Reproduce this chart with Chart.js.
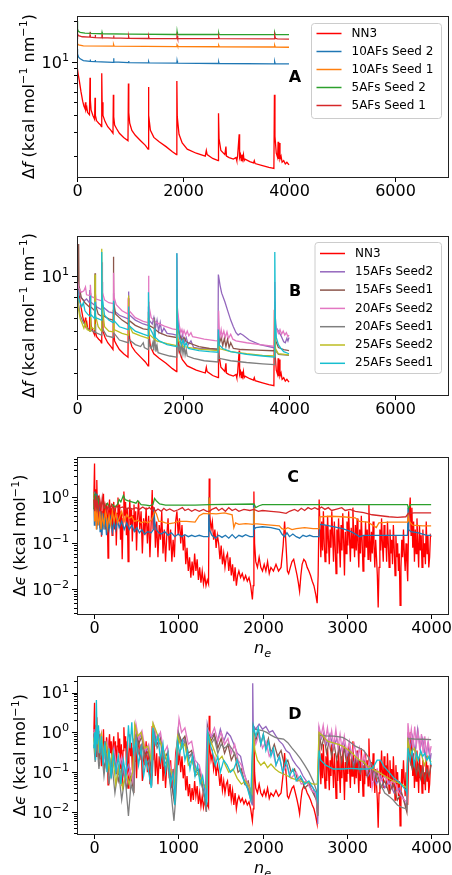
<!DOCTYPE html>
<html>
<head>
<meta charset="utf-8">
<title>Force and energy errors vs n_e</title>
<script src="https://cdn.jsdelivr.net/npm/chart.js@4.4.1/dist/chart.umd.min.js"></script>
<style>
  body { margin: 0; background: #fff; }
  canvas { position: absolute; left: 0; }
</style>
</head>
<body>
<canvas id="panelA" width="452" height="220" style="top:0px"></canvas>
<canvas id="panelB" width="452" height="218" style="top:220px"></canvas>
<canvas id="panelC" width="452" height="222" style="top:438px"></canvas>
<canvas id="panelD" width="452" height="215" style="top:660px"></canvas>
<script>
// ---- data: [epoch, value] ----

// force error, panels A and B
const nn3Df = [[0, 9.3], [20, 8.2], [44, 7.2], [75, 6.0], [107, 5.1], [130, 4.7], [150, 4.5], [160, 5.0], [168, 4.4], [185, 4.6], [200, 4.2], [235, 4.05], [246, 7.6], [252, 5.2], [265, 4.4], [300, 4.0], [332, 3.75], [340, 5.4], [347, 4.0], [370, 3.65], [410, 3.5], [445, 3.4], [460, 3.3], [467, 8.2], [474, 5.0], [490, 4.0], [530, 3.6], [580, 3.3], [640, 3.1], [679, 2.95], [686, 5.7], [693, 3.9], [710, 3.4], [745, 3.2], [800, 2.95], [880, 2.75], [962, 2.6], [970, 6.9], [977, 4.2], [995, 3.5], [1035, 3.1], [1100, 2.85], [1200, 2.6], [1290, 2.4], [1341, 2.25], [1348, 6.5], [1356, 4.0], [1385, 3.1], [1450, 2.75], [1550, 2.55], [1680, 2.35], [1800, 2.15], [1877, 2.05], [1884, 7.2], [1892, 3.9], [1925, 2.9], [1985, 2.5], [2080, 2.25], [2250, 2.1], [2420, 2.0], [2440, 2.2], [2455, 2.05], [2560, 1.92], [2663, 1.85], [2670, 4.15], [2680, 2.7], [2715, 2.2], [2790, 2.05], [2810, 2.35], [2820, 2.0], [2870, 1.95], [2950, 1.9], [3000, 1.95], [3015, 1.85], [3030, 2.0], [3060, 2.9], [3068, 1.95], [3085, 2.05], [3100, 1.85], [3112, 2.05], [3125, 1.9], [3140, 2.05], [3152, 1.85], [3170, 1.9], [3260, 1.82], [3330, 1.78], [3345, 1.85], [3360, 1.76], [3500, 1.7], [3620, 1.65], [3715, 1.62], [3725, 5.7], [3735, 2.8], [3760, 2.1], [3785, 1.95], [3795, 2.55], [3805, 1.9], [3820, 2.5], [3830, 1.9], [3850, 2.0], [3870, 1.8], [3900, 1.85], [3930, 1.75], [3960, 1.8], [4000, 1.72]];
const blue10s2Df = [[0, 12.4], [10, 11.4], [30, 10.8], [60, 10.5], [120, 10.2], [246, 10.05], [250, 10.4], [256, 10.05], [340, 10.0], [344, 10.3], [350, 10.0], [686, 9.9], [690, 10.6], [698, 9.95], [970, 9.85], [974, 10.1], [980, 9.85], [1348, 9.8], [1352, 10.0], [1360, 9.8], [1884, 9.75], [1888, 10.15], [1896, 9.75], [2670, 9.7], [2674, 9.9], [2680, 9.7], [3725, 9.65], [3730, 10.0], [3740, 9.65], [4000, 9.62]];
const orange10s1Df = [[0, 14.6], [8, 13.6], [30, 13.3], [120, 13.1], [686, 13.05], [690, 13.4], [700, 13.05], [1884, 12.95], [1888, 13.3], [1900, 12.95], [2670, 12.9], [2674, 13.2], [2685, 12.9], [3725, 12.85], [3730, 13.2], [3740, 12.85], [4000, 12.8]];
const green5s2Df = [[0, 20.0], [10, 17.5], [25, 16.8], [60, 16.5], [150, 16.3], [246, 16.2], [250, 16.6], [256, 16.2], [467, 16.1], [472, 16.5], [478, 16.1], [1000, 16.0], [1884, 15.9], [1888, 16.7], [1895, 15.95], [2670, 15.9], [2675, 16.2], [2680, 15.9], [3725, 15.85], [3730, 16.4], [3740, 15.9], [4000, 15.85]];
const red5s1Df = [[0, 16.6], [10, 16.0], [30, 15.6], [100, 15.3], [240, 15.2], [246, 15.8], [252, 15.2], [340, 15.1], [344, 15.8], [350, 15.1], [467, 15.0], [471, 16.0], [480, 15.1], [686, 14.95], [690, 15.6], [698, 15.0], [970, 14.9], [974, 15.4], [982, 14.9], [1348, 14.85], [1352, 15.3], [1360, 14.85], [1884, 14.8], [1888, 15.5], [1900, 14.85], [2670, 14.8], [2674, 15.3], [2685, 14.8], [3725, 14.75], [3730, 15.7], [3745, 14.9], [3780, 14.75], [4000, 14.7]];

const purple15s2Df = [[0, 8.8], [30, 7.6], [80, 6.9], [140, 6.6], [180, 6.8], [233, 6.4], [240, 7.9], [250, 6.5], [340, 6.1], [346, 7.0], [360, 6.0], [467, 5.7], [472, 9.0], [482, 6.0], [600, 5.5], [686, 5.4], [690, 7.5], [700, 5.6], [800, 5.2], [965, 4.9], [970, 7.7], [980, 5.3], [1100, 4.8], [1250, 4.5], [1340, 4.4], [1348, 6.0], [1360, 4.8], [1420, 4.5], [1450, 5.0], [1480, 4.2], [1510, 4.8], [1540, 4.0], [1570, 4.6], [1600, 3.9], [1640, 4.2], [1700, 3.85], [1800, 3.8], [1878, 3.75], [1884, 14.5], [1892, 5.5], [1930, 3.9], [1960, 3.5], [1990, 3.8], [2020, 3.3], [2060, 3.6], [2100, 3.2], [2150, 3.4], [2200, 3.05], [2300, 3.0], [2500, 2.97], [2660, 2.95], [2667, 10.2], [2700, 8.5], [2730, 7.5], [2790, 6.5], [2850, 5.5], [2900, 4.8], [2950, 4.3], [3000, 3.9], [3040, 3.75], [3080, 3.85], [3130, 3.75], [3250, 3.45], [3450, 3.2], [3700, 3.05], [3725, 3.05], [3732, 6.0], [3750, 4.3], [3800, 4.0], [3850, 3.7], [3900, 3.35], [3930, 3.3], [3960, 3.55], [3980, 3.4], [4000, 3.6]];
const brown15s1Df = [[0, 9.0], [25, 8.0], [31, 16.9], [38, 8.5], [80, 7.0], [150, 6.4], [246, 5.9], [252, 7.5], [262, 6.0], [334, 5.6], [340, 10.4], [348, 6.2], [400, 5.3], [467, 5.1], [472, 6.5], [480, 5.2], [600, 4.9], [680, 4.8], [686, 13.7], [694, 6.5], [730, 5.3], [850, 4.8], [965, 4.5], [970, 5.8], [980, 4.8], [1100, 4.4], [1250, 4.15], [1342, 4.1], [1348, 5.5], [1360, 4.4], [1450, 4.2], [1550, 3.9], [1700, 3.7], [1878, 3.6], [1884, 8.0], [1895, 4.4], [1940, 3.7], [1980, 3.45], [2020, 3.6], [2060, 3.35], [2100, 3.3], [2300, 3.1], [2500, 3.0], [2665, 2.97], [2672, 4.0], [2690, 3.3], [2720, 3.6], [2750, 3.15], [2780, 3.55], [2810, 3.1], [2840, 3.5], [2870, 3.05], [2900, 3.3], [2950, 3.0], [3100, 2.95], [3400, 2.92], [3700, 2.89], [3726, 2.9], [3732, 6.5], [3750, 3.4], [3800, 3.05], [3900, 2.95], [4000, 2.9]];
const pink20s2Df = [[0, 9.6], [30, 8.2], [80, 7.6], [130, 7.8], [160, 8.3], [180, 7.3], [246, 7.2], [252, 8.6], [265, 7.1], [340, 6.9], [346, 7.5], [360, 6.8], [467, 6.6], [472, 12.5], [480, 7.6], [520, 6.7], [600, 6.4], [686, 6.3], [690, 10.5], [700, 7.0], [740, 6.2], [850, 5.6], [965, 5.3], [970, 7.0], [985, 5.6], [1100, 5.0], [1250, 4.7], [1340, 4.6], [1348, 10.0], [1358, 6.2], [1400, 5.0], [1500, 4.6], [1650, 4.35], [1800, 4.15], [1878, 4.1], [1884, 13.5], [1892, 6.0], [1930, 4.4], [1960, 3.9], [1980, 4.1], [2000, 3.8], [2020, 4.05], [2050, 3.75], [2080, 4.0], [2110, 3.7], [2150, 3.9], [2180, 3.65], [2250, 3.6], [2400, 3.5], [2600, 3.42], [2665, 3.4], [2672, 5.6], [2685, 4.0], [2700, 3.7], [2720, 4.1], [2740, 3.65], [2770, 4.0], [2800, 3.6], [2830, 3.95], [2860, 3.55], [2900, 3.8], [2940, 3.5], [3000, 3.4], [3200, 3.3], [3450, 3.2], [3700, 3.12], [3726, 3.15], [3732, 9.0], [3745, 4.5], [3770, 4.1], [3800, 3.85], [3830, 4.1], [3860, 3.8], [3890, 4.0], [3920, 3.75], [3950, 3.9], [3980, 3.65], [4000, 3.75]];
const gray20s1Df = [[0, 8.5], [25, 6.5], [60, 5.2], [120, 4.6], [200, 4.2], [246, 4.0], [252, 5.0], [262, 4.1], [340, 3.9], [346, 4.5], [356, 3.9], [462, 3.75], [467, 6.0], [474, 4.2], [560, 3.7], [680, 3.6], [686, 6.5], [694, 3.9], [800, 3.45], [965, 3.3], [970, 4.5], [980, 3.5], [1100, 3.2], [1200, 3.1], [1250, 3.3], [1270, 3.05], [1342, 2.95], [1348, 4.2], [1360, 3.2], [1400, 3.0], [1430, 3.3], [1450, 2.9], [1462, 5.0], [1475, 3.2], [1490, 2.85], [1510, 3.15], [1530, 2.8], [1600, 2.75], [1750, 2.65], [1878, 2.6], [1884, 5.5], [1892, 3.4], [1920, 2.9], [1940, 3.2], [1960, 2.8], [1980, 3.3], [2000, 2.75], [2020, 3.1], [2040, 2.7], [2060, 2.95], [2080, 2.65], [2200, 2.55], [2400, 2.45], [2660, 2.4], [2667, 3.0], [2680, 2.55], [2900, 2.45], [3200, 2.38], [3500, 2.33], [3726, 2.3], [3732, 4.0], [3745, 2.9], [3800, 2.72], [4000, 2.68]];
const olive25s2Df = [[0, 8.0], [20, 6.0], [60, 4.9], [100, 4.5], [130, 4.2], [160, 4.6], [190, 4.1], [246, 4.0], [252, 5.5], [262, 4.3], [334, 4.1], [340, 10.2], [348, 5.2], [400, 4.3], [462, 4.0], [467, 15.6], [474, 6.0], [520, 4.3], [600, 4.0], [686, 3.95], [690, 5.5], [700, 4.1], [850, 3.85], [965, 3.75], [970, 7.2], [980, 4.5], [1050, 3.9], [1200, 3.7], [1342, 3.55], [1348, 5.0], [1360, 3.8], [1500, 3.4], [1700, 3.25], [1878, 3.15], [1884, 6.0], [1895, 3.5], [2000, 3.1], [2300, 2.97], [2660, 2.9], [2667, 3.5], [2680, 3.0], [2900, 2.85], [3200, 2.75], [3500, 2.68], [3726, 2.65], [3732, 5.0], [3745, 3.0], [3800, 2.75], [4000, 2.7]];
const cyan25s1Df = [[0, 8.8], [20, 7.2], [50, 6.5], [90, 6.0], [120, 6.4], [150, 5.6], [200, 5.3], [246, 5.1], [252, 7.2], [262, 5.3], [334, 4.9], [340, 6.5], [348, 5.0], [462, 4.8], [467, 14.8], [474, 7.0], [520, 5.2], [600, 4.8], [680, 4.6], [686, 6.6], [694, 4.8], [800, 4.3], [965, 4.1], [970, 6.0], [980, 4.4], [1100, 4.0], [1250, 3.8], [1342, 3.7], [1348, 7.6], [1360, 4.3], [1420, 3.9], [1460, 3.6], [1470, 4.2], [1480, 3.6], [1550, 3.4], [1700, 3.2], [1878, 3.1], [1884, 14.5], [1892, 5.0], [1930, 3.6], [1970, 3.2], [2000, 3.45], [2030, 3.1], [2060, 3.3], [2100, 3.0], [2300, 2.9], [2500, 2.85], [2660, 2.82], [2667, 4.1], [2680, 3.2], [2750, 3.0], [2900, 2.85], [3200, 2.72], [3500, 2.65], [3726, 2.6], [3732, 14.8], [3742, 5.0], [3760, 3.6], [3800, 3.2], [3850, 3.0], [3900, 2.85], [4000, 2.75]];

// energy error, panels C and D
const nn3De = [[0, 1.0], [8, 5.5], [14, 0.4], [20, 1.5], [28, 0.25], [35, 2.4], [42, 0.5], [50, 1.1], [58, 0.3], [66, 0.9], [74, 0.22], [82, 0.7], [90, 0.14], [98, 0.5], [106, 0.35], [114, 1.2], [122, 0.28], [130, 0.6], [140, 0.2], [150, 0.75], [160, 0.4], [168, 0.048], [176, 0.5], [186, 0.9], [196, 0.3], [206, 0.6], [216, 0.15], [226, 0.45], [236, 0.8], [246, 0.2], [256, 0.6], [266, 0.09], [276, 0.45], [286, 1.0], [296, 0.3], [306, 0.7], [316, 0.12], [326, 0.5], [336, 0.045], [346, 0.35], [356, 1.35], [366, 0.4], [376, 0.8], [386, 0.15], [396, 0.6], [406, 0.04], [416, 0.3], [426, 0.9], [436, 0.25], [446, 0.55], [456, 0.11], [466, 0.4], [476, 0.7], [486, 0.18], [496, 0.5], [506, 0.07], [516, 0.3], [530, 0.85], [545, 0.2], [560, 0.5], [575, 0.06], [590, 0.35], [605, 0.15], [620, 0.6], [635, 0.1], [650, 0.4], [665, 0.05], [680, 0.3], [692, 1.45], [702, 0.2], [715, 0.6], [730, 0.08], [745, 0.3], [760, 0.05], [775, 0.25], [790, 0.12], [805, 0.5], [820, 0.06], [835, 0.2], [850, 0.04], [865, 0.15], [880, 0.35], [895, 0.07], [910, 0.2], [925, 0.04], [940, 0.12], [955, 0.05], [970, 0.3], [985, 0.5], [1000, 0.15], [1015, 0.35], [1030, 0.1], [1045, 0.25], [1060, 0.07], [1075, 0.15], [1090, 0.035], [1105, 0.08], [1120, 0.025], [1135, 0.05], [1150, 0.018], [1165, 0.04], [1180, 0.02], [1195, 0.06], [1210, 0.025], [1225, 0.045], [1240, 0.016], [1255, 0.03], [1270, 0.014], [1285, 0.025], [1300, 0.013], [1315, 0.02], [1330, 0.012], [1345, 0.016], [1360, 0.013], [1368, 2.6], [1376, 0.4], [1390, 0.2], [1405, 0.3], [1420, 0.12], [1435, 0.2], [1450, 0.08], [1465, 0.15], [1480, 0.1], [1495, 0.045], [1510, 0.09], [1525, 0.035], [1540, 0.06], [1555, 0.03], [1570, 0.05], [1585, 0.06], [1600, 0.025], [1615, 0.05], [1630, 0.02], [1645, 0.035], [1660, 0.015], [1675, 0.03], [1690, 0.012], [1705, 0.02], [1720, 0.025], [1740, 0.018], [1760, 0.022], [1780, 0.016], [1800, 0.02], [1820, 0.015], [1840, 0.018], [1860, 0.012], [1880, 0.006], [1890, 0.012], [1898, 1.35], [1906, 0.1], [1920, 0.04], [1940, 0.03], [1960, 0.05], [1980, 0.03], [2000, 0.025], [2020, 0.035], [2040, 0.025], [2060, 0.04], [2080, 0.022], [2100, 0.03], [2130, 0.025], [2160, 0.035], [2190, 0.025], [2220, 0.03], [2245, 0.09], [2262, 0.3], [2278, 0.1], [2295, 0.025], [2310, 0.022], [2330, 0.03], [2350, 0.04], [2370, 0.045], [2390, 0.03], [2410, 0.02], [2425, 0.014], [2440, 0.009], [2455, 0.02], [2470, 0.035], [2490, 0.045], [2510, 0.04], [2530, 0.03], [2550, 0.025], [2570, 0.02], [2590, 0.015], [2610, 0.012], [2630, 0.008], [2648, 0.005], [2660, 0.02], [2672, 0.9], [2682, 0.2], [2692, 0.05], [2702, 0.3], [2712, 0.07], [2722, 0.5], [2732, 0.1], [2742, 0.04], [2752, 0.25], [2762, 0.06], [2772, 0.4], [2782, 0.12], [2792, 0.035], [2802, 0.2], [2812, 0.08], [2822, 0.5], [2832, 0.15], [2842, 0.04], [2852, 0.3], [2862, 0.09], [2872, 0.022], [2882, 0.2], [2892, 0.06], [2902, 0.35], [2912, 0.1], [2922, 0.03], [2932, 0.25], [2942, 0.07], [2952, 0.45], [2962, 0.12], [2972, 0.02], [2982, 0.18], [2992, 0.06], [3002, 0.3], [3012, 0.09], [3022, 0.5], [3032, 0.13], [3042, 0.04], [3052, 0.22], [3062, 0.08], [3072, 0.6], [3082, 0.15], [3092, 0.05], [3102, 0.25], [3112, 0.07], [3122, 0.35], [3132, 0.1], [3142, 0.03], [3152, 0.2], [3162, 0.06], [3172, 0.4], [3182, 0.11], [3192, 0.025], [3202, 0.15], [3212, 0.05], [3222, 0.3], [3232, 0.08], [3242, 0.2], [3252, 0.045], [3262, 0.7], [3272, 0.12], [3282, 0.04], [3292, 0.18], [3302, 0.06], [3312, 0.3], [3322, 0.09], [3332, 0.03], [3342, 0.12], [3352, 0.05], [3362, 0.02], [3372, 0.004], [3382, 0.03], [3392, 0.2], [3402, 0.07], [3412, 0.35], [3422, 0.1], [3432, 0.04], [3442, 0.25], [3452, 0.08], [3462, 0.15], [3472, 0.04], [3482, 0.3], [3492, 0.1], [3502, 0.03], [3512, 0.2], [3522, 0.06], [3532, 0.12], [3542, 0.035], [3552, 0.25], [3562, 0.08], [3572, 0.02], [3582, 0.15], [3592, 0.05], [3602, 0.1], [3612, 0.025], [3622, 0.06], [3632, 0.0045], [3642, 0.03], [3652, 0.12], [3662, 0.05], [3672, 0.2], [3682, 0.06], [3692, 0.025], [3702, 0.1], [3712, 0.04], [3722, 0.015], [3732, 0.2], [3742, 0.5], [3752, 1.0], [3762, 0.15], [3772, 0.6], [3782, 0.08], [3792, 0.3], [3802, 0.04], [3812, 0.2], [3822, 0.06], [3832, 0.35], [3842, 0.1], [3852, 0.03], [3862, 0.25], [3872, 0.07], [3882, 0.15], [3892, 0.03], [3902, 0.2], [3912, 0.05], [3922, 0.1], [3932, 0.035], [3942, 0.3], [3952, 0.06], [3962, 0.15], [3972, 0.03], [3982, 0.05], [3992, 0.15], [4000, 0.14]];
const blue10s2De = [[0, 1.3], [6, 0.25], [12, 1.35], [20, 0.3], [28, 1.2], [36, 0.2], [44, 0.9], [54, 0.25], [64, 0.7], [74, 0.18], [84, 0.5], [96, 0.15], [108, 0.45], [120, 0.2], [135, 0.35], [150, 0.15], [165, 0.3], [180, 0.2], [200, 0.35], [220, 0.18], [240, 0.3], [260, 0.2], [280, 0.32], [300, 0.22], [330, 0.3], [360, 0.2], [390, 0.28], [420, 0.2], [450, 0.25], [480, 0.18], [510, 0.22], [540, 0.17], [570, 0.2], [600, 0.16], [640, 0.18], [680, 0.17], [705, 0.2], [712, 0.6], [720, 0.3], [740, 0.2], [770, 0.17], [800, 0.16], [840, 0.18], [880, 0.15], [920, 0.17], [960, 0.14], [1000, 0.16], [1040, 0.14], [1080, 0.155], [1120, 0.14], [1160, 0.15], [1200, 0.14], [1250, 0.15], [1300, 0.14], [1355, 0.14], [1362, 1.0], [1370, 0.2], [1400, 0.15], [1440, 0.13], [1480, 0.15], [1520, 0.135], [1560, 0.15], [1600, 0.13], [1640, 0.155], [1680, 0.13], [1720, 0.15], [1760, 0.14], [1800, 0.155], [1850, 0.14], [1890, 0.14], [1894, 0.7], [1900, 0.2], [1920, 0.22], [2000, 0.23], [2100, 0.22], [2200, 0.2], [2230, 0.16], [2260, 0.14], [2290, 0.17], [2320, 0.14], [2360, 0.16], [2400, 0.14], [2440, 0.13], [2480, 0.15], [2520, 0.14], [2560, 0.15], [2600, 0.14], [2670, 0.14], [2680, 0.26], [2750, 0.25], [2850, 0.23], [2950, 0.21], [3050, 0.18], [3100, 0.16], [3150, 0.14], [3200, 0.15], [3300, 0.15], [3400, 0.15], [3500, 0.15], [3600, 0.15], [3720, 0.15], [3726, 0.6], [3732, 0.2], [3760, 0.18], [3850, 0.17], [3950, 0.15], [4000, 0.15]];
const orange10s1De = [[0, 1.3], [10, 0.3], [20, 0.9], [30, 0.2], [40, 0.6], [55, 0.25], [70, 0.5], [85, 0.2], [100, 0.4], [120, 0.25], [140, 0.55], [160, 0.22], [180, 0.4], [200, 0.25], [220, 0.5], [240, 0.3], [260, 0.45], [280, 0.28], [300, 0.35], [330, 0.5], [360, 0.3], [390, 0.42], [420, 0.35], [450, 0.38], [480, 0.3], [520, 0.32], [560, 0.28], [600, 0.3], [640, 0.28], [680, 0.32], [700, 0.38], [720, 0.5], [740, 0.45], [770, 0.3], [800, 0.3], [850, 0.28], [900, 0.27], [950, 0.28], [1000, 0.3], [1100, 0.3], [1200, 0.29], [1250, 0.4], [1300, 0.45], [1362, 0.44], [1366, 1.0], [1372, 0.45], [1450, 0.44], [1550, 0.46], [1640, 0.42], [1660, 0.22], [1680, 0.28], [1720, 0.26], [1800, 0.27], [1894, 0.26], [1898, 0.6], [1904, 0.27], [2000, 0.26], [2100, 0.25], [2200, 0.24], [2230, 0.21], [2260, 0.2], [2300, 0.22], [2350, 0.2], [2400, 0.21], [2500, 0.22], [2600, 0.21], [2670, 0.21], [2680, 0.38], [2800, 0.39], [2950, 0.38], [3100, 0.36], [3150, 0.3], [3250, 0.29], [3350, 0.22], [3380, 0.28], [3500, 0.29], [3600, 0.29], [3720, 0.29], [3728, 0.4], [3740, 0.3], [3780, 0.25], [3900, 0.24], [4000, 0.24]];
const green5s2De = [[0, 0.55], [10, 1.2], [20, 0.7], [30, 1.0], [45, 0.6], [60, 0.9], [80, 0.65], [100, 0.8], [130, 0.6], [160, 0.75], [190, 0.6], [220, 0.7], [250, 0.62], [280, 0.7], [300, 0.9], [320, 0.8], [350, 1.1], [370, 0.9], [400, 0.85], [450, 0.8], [500, 0.75], [520, 0.85], [560, 0.7], [620, 0.68], [660, 0.66], [700, 0.7], [720, 0.95], [740, 0.85], [780, 0.72], [850, 0.68], [1000, 0.68], [1200, 0.68], [1370, 0.7], [1900, 0.72], [1920, 0.6], [1960, 0.66], [2000, 0.7], [2500, 0.7], [3720, 0.7], [3730, 0.58], [3760, 0.7], [4000, 0.7]];
const red5s1De = [[0, 0.9], [10, 0.5], [20, 1.1], [30, 0.6], [40, 0.8], [55, 0.45], [70, 0.9], [85, 0.55], [100, 1.0], [115, 0.6], [130, 0.75], [150, 0.5], [170, 0.65], [190, 0.55], [210, 0.7], [240, 0.5], [270, 0.65], [300, 0.58], [340, 0.62], [380, 0.55], [420, 0.6], [460, 0.56], [500, 0.6], [540, 0.55], [580, 0.62], [620, 0.55], [660, 0.6], [690, 0.52], [710, 0.6], [730, 0.5], [760, 0.56], [800, 0.5], [830, 0.58], [860, 0.52], [900, 0.56], [950, 0.5], [1000, 0.54], [1050, 0.6], [1080, 0.52], [1120, 0.56], [1160, 0.5], [1200, 0.55], [1250, 0.5], [1300, 0.55], [1340, 0.5], [1370, 0.5], [1400, 0.55], [1450, 0.6], [1480, 0.52], [1520, 0.58], [1560, 0.5], [1600, 0.6], [1640, 0.52], [1680, 0.56], [1720, 0.5], [1780, 0.55], [1850, 0.52], [1900, 0.55], [1950, 0.5], [2000, 0.52], [2100, 0.5], [2200, 0.48], [2280, 0.45], [2320, 0.5], [2380, 0.55], [2420, 0.5], [2460, 0.58], [2500, 0.52], [2540, 0.6], [2580, 0.55], [2620, 0.6], [2660, 0.55], [2700, 0.62], [2740, 0.55], [2780, 0.6], [2820, 0.52], [2880, 0.56], [2940, 0.6], [2980, 0.52], [3040, 0.55], [3100, 0.5], [3200, 0.47], [3300, 0.42], [3400, 0.4], [3500, 0.38], [3600, 0.37], [3700, 0.38], [3730, 0.45], [3800, 0.46], [4000, 0.46]];

const purple15s2De = [[0, 0.9], [15, 0.35], [30, 1.6], [50, 0.4], [80, 0.8], [110, 0.25], [150, 0.5], [190, 0.15], [230, 0.35], [270, 0.1], [320, 0.2], [360, 0.07], [410, 0.15], [460, 0.06], [490, 1.3], [520, 0.6], [560, 0.9], [600, 0.3], [640, 0.4], [680, 0.12], [705, 1.2], [740, 0.7], [780, 0.9], [820, 0.35], [860, 0.2], [900, 0.12], [940, 0.03], [970, 0.05], [1000, 1.1], [1040, 0.5], [1080, 0.7], [1120, 0.25], [1170, 0.3], [1220, 0.1], [1270, 0.08], [1320, 0.02], [1345, 1.6], [1380, 0.7], [1420, 0.9], [1460, 0.5], [1500, 1.2], [1540, 0.6], [1580, 1.0], [1620, 0.8], [1660, 0.5], [1700, 0.3], [1740, 0.25], [1780, 0.1], [1820, 0.05], [1860, 0.02], [1878, 0.015], [1884, 17], [1890, 1.5], [1920, 1.2], [1960, 1.6], [2000, 1.2], [2040, 1.4], [2080, 1.0], [2120, 1.1], [2160, 0.8], [2200, 0.6], [2240, 0.5], [2280, 0.35], [2320, 0.3], [2360, 0.2], [2400, 0.15], [2440, 0.12], [2480, 0.08], [2520, 0.06], [2560, 0.05], [2600, 0.04], [2640, 0.02], [2655, 0.005], [2670, 1.2], [2700, 0.7], [2730, 1.0], [2760, 0.5], [2800, 0.9], [2840, 0.4], [2880, 0.7], [2920, 0.3], [2960, 0.6], [3000, 0.25], [3040, 0.4], [3080, 0.15], [3120, 0.3], [3160, 0.1], [3200, 0.2], [3250, 0.08], [3300, 0.12], [3350, 0.05], [3400, 0.08], [3450, 0.04], [3500, 0.06], [3560, 0.03], [3620, 0.04], [3680, 0.02], [3710, 0.012], [3725, 1.0], [3750, 0.4], [3780, 0.8], [3810, 0.3], [3840, 1.2], [3870, 0.4], [3900, 0.7], [3930, 0.25], [3960, 0.5], [3990, 0.2], [4000, 0.3]];
const brown15s1De = [[0, 1.0], [15, 0.3], [35, 0.9], [60, 0.2], [90, 0.6], [125, 0.12], [165, 0.4], [205, 0.08], [245, 0.25], [290, 0.06], [340, 0.15], [390, 0.04], [440, 0.08], [475, 0.03], [495, 1.2], [530, 0.5], [570, 0.8], [610, 0.25], [650, 0.35], [690, 0.08], [712, 1.3], [750, 0.5], [790, 0.7], [830, 0.2], [870, 0.3], [910, 0.08], [950, 0.02], [1000, 1.0], [1040, 0.6], [1080, 0.8], [1120, 0.3], [1160, 0.35], [1200, 0.1], [1250, 0.12], [1300, 0.03], [1335, 0.015], [1350, 1.3], [1390, 0.6], [1430, 0.9], [1470, 0.4], [1510, 0.7], [1550, 0.3], [1590, 0.5], [1630, 0.2], [1670, 0.3], [1710, 0.1], [1750, 0.12], [1790, 0.05], [1830, 0.06], [1870, 0.025], [1890, 1.3], [1920, 0.6], [1950, 1.1], [1980, 0.5], [2010, 0.9], [2040, 0.4], [2070, 0.7], [2100, 0.3], [2140, 0.5], [2180, 0.25], [2220, 0.35], [2260, 0.15], [2300, 0.2], [2340, 0.1], [2380, 0.12], [2420, 0.06], [2460, 0.07], [2500, 0.04], [2550, 0.05], [2600, 0.03], [2640, 0.02], [2655, 0.008], [2670, 1.0], [2700, 0.4], [2730, 0.8], [2760, 0.3], [2790, 0.6], [2820, 0.25], [2850, 0.5], [2880, 0.2], [2910, 0.45], [2940, 0.18], [2970, 0.4], [3000, 0.15], [3040, 0.35], [3080, 0.12], [3120, 0.25], [3160, 0.1], [3200, 0.2], [3240, 0.08], [3280, 0.15], [3320, 0.06], [3360, 0.1], [3400, 0.04], [3450, 0.06], [3500, 0.03], [3550, 0.05], [3600, 0.02], [3650, 0.03], [3690, 0.015], [3712, 0.01], [3725, 0.5], [3750, 0.2], [3775, 0.12], [3800, 0.18], [3825, 0.09], [3850, 0.15], [3875, 0.07], [3900, 0.13], [3925, 0.06], [3950, 0.12], [3975, 0.08], [4000, 0.15]];
const pink20s2De = [[0, 1.2], [20, 0.5], [40, 1.3], [60, 0.3], [90, 0.9], [120, 0.2], [160, 0.6], [200, 0.12], [240, 0.4], [280, 0.1], [330, 0.25], [380, 0.06], [430, 0.12], [470, 0.05], [500, 1.6], [530, 0.7], [570, 1.1], [610, 0.35], [650, 0.5], [690, 0.15], [710, 1.5], [750, 0.6], [790, 1.0], [830, 0.3], [870, 0.45], [910, 0.12], [950, 0.05], [1010, 2.2], [1040, 1.0], [1080, 1.3], [1120, 0.5], [1160, 0.6], [1200, 0.2], [1250, 0.15], [1300, 0.05], [1330, 0.025], [1350, 1.2], [1390, 0.8], [1430, 1.3], [1470, 0.6], [1510, 1.0], [1550, 0.5], [1590, 0.7], [1630, 0.3], [1670, 0.5], [1710, 0.2], [1750, 0.15], [1790, 0.08], [1830, 0.05], [1870, 0.03], [1890, 1.0], [1920, 0.5], [1960, 0.9], [2000, 0.4], [2040, 0.6], [2080, 0.25], [2120, 0.35], [2160, 0.15], [2200, 0.25], [2240, 0.1], [2290, 0.15], [2340, 0.07], [2400, 0.1], [2460, 0.05], [2520, 0.06], [2580, 0.035], [2630, 0.03], [2655, 0.01], [2670, 1.4], [2695, 0.8], [2720, 1.5], [2745, 0.6], [2770, 1.3], [2795, 0.5], [2820, 1.1], [2845, 0.45], [2870, 1.2], [2895, 0.4], [2920, 0.9], [2945, 0.35], [2970, 0.8], [3000, 0.3], [3030, 0.6], [3060, 0.25], [3090, 0.5], [3120, 0.2], [3150, 0.4], [3180, 0.15], [3210, 0.3], [3240, 0.1], [3270, 0.2], [3300, 0.04], [3330, 0.1], [3360, 0.12], [3400, 0.06], [3450, 0.08], [3500, 0.05], [3560, 0.06], [3620, 0.03], [3680, 0.02], [3712, 0.018], [3725, 1.7], [3745, 0.6], [3765, 1.2], [3785, 0.4], [3805, 1.4], [3825, 0.5], [3845, 1.0], [3865, 0.35], [3885, 0.9], [3905, 0.3], [3925, 0.8], [3945, 0.25], [3965, 0.6], [3985, 0.3], [4000, 0.45]];
const gray20s1De = [[0, 0.5], [15, 0.18], [35, 0.6], [60, 0.12], [90, 0.4], [120, 0.08], [150, 0.3], [180, 0.05], [210, 0.2], [250, 0.03], [290, 0.12], [330, 0.02], [370, 0.08], [410, 0.008], [440, 0.05], [470, 0.03], [500, 0.9], [530, 0.3], [570, 0.5], [610, 0.15], [650, 0.2], [690, 0.06], [715, 1.0], [750, 0.4], [790, 0.6], [830, 0.15], [870, 0.2], [910, 0.04], [950, 0.006], [975, 0.03], [1005, 0.9], [1040, 0.4], [1080, 0.6], [1120, 0.2], [1160, 0.3], [1200, 0.08], [1250, 0.1], [1300, 0.03], [1335, 0.01], [1350, 0.8], [1390, 0.5], [1430, 0.7], [1470, 0.3], [1510, 0.5], [1550, 0.4], [1600, 0.5], [1650, 0.35], [1700, 0.2], [1750, 0.1], [1800, 0.05], [1850, 0.03], [1875, 0.02], [1890, 1.2], [1950, 1.15], [2000, 1.1], [2050, 1.0], [2100, 0.85], [2150, 0.75], [2200, 0.7], [2250, 0.68], [2300, 0.55], [2350, 0.4], [2400, 0.3], [2450, 0.22], [2500, 0.15], [2550, 0.1], [2600, 0.06], [2640, 0.035], [2655, 0.008], [2670, 0.85], [2750, 0.82], [2850, 0.8], [2950, 0.75], [3000, 0.65], [3050, 0.55], [3100, 0.45], [3150, 0.4], [3200, 0.35], [3250, 0.25], [3300, 0.15], [3350, 0.08], [3400, 0.05], [3450, 0.03], [3500, 0.025], [3550, 0.02], [3600, 0.015], [3650, 0.013], [3712, 0.012], [3725, 0.7], [3800, 0.68], [3900, 0.67], [4000, 0.66]];
const olive25s2De = [[0, 0.7], [15, 0.3], [35, 1.8], [60, 0.4], [90, 0.9], [120, 0.25], [150, 0.5], [180, 0.12], [220, 0.3], [260, 0.05], [300, 0.15], [340, 0.04], [380, 0.1], [420, 0.05], [460, 0.1], [485, 1.6], [520, 0.8], [560, 1.0], [600, 0.4], [640, 0.45], [680, 0.2], [700, 1.7], [730, 1.2], [760, 0.8], [800, 0.5], [840, 0.3], [880, 0.15], [920, 0.1], [960, 0.05], [995, 0.8], [1040, 0.4], [1080, 0.5], [1120, 0.15], [1160, 0.2], [1200, 0.12], [1250, 0.08], [1300, 0.05], [1335, 0.04], [1355, 0.9], [1400, 0.5], [1440, 0.3], [1480, 0.2], [1520, 0.25], [1560, 0.15], [1600, 0.1], [1650, 0.12], [1700, 0.07], [1750, 0.05], [1800, 0.06], [1850, 0.04], [1875, 0.03], [1890, 1.0], [1910, 0.35], [1940, 0.2], [1980, 0.15], [2020, 0.18], [2060, 0.13], [2100, 0.16], [2150, 0.12], [2200, 0.1], [2250, 0.09], [2300, 0.08], [2350, 0.07], [2400, 0.065], [2450, 0.06], [2500, 0.055], [2550, 0.055], [2600, 0.05], [2650, 0.05], [2670, 1.0], [2720, 0.8], [2770, 0.6], [2830, 0.55], [2900, 0.5], [2950, 0.45], [3000, 0.38], [3050, 0.32], [3100, 0.25], [3150, 0.2], [3200, 0.18], [3250, 0.14], [3300, 0.12], [3380, 0.1], [3450, 0.08], [3550, 0.06], [3650, 0.05], [3712, 0.04], [3725, 0.6], [3760, 0.3], [3800, 0.4], [3840, 0.2], [3880, 0.3], [3920, 0.15], [3960, 0.25], [4000, 0.18]];
const cyan25s1De = [[0, 0.4], [10, 1.0], [20, 0.2], [30, 6.5], [40, 0.5], [55, 1.5], [70, 0.3], [90, 0.8], [110, 0.15], [130, 0.6], [155, 0.1], [180, 0.4], [205, 0.07], [230, 0.3], [260, 0.1], [290, 0.25], [320, 0.05], [350, 0.2], [380, 0.08], [410, 1.5], [430, 0.4], [450, 1.8], [470, 0.3], [500, 0.6], [530, 0.15], [560, 0.4], [590, 0.08], [620, 0.2], [650, 0.1], [680, 0.04], [700, 1.3], [730, 0.5], [760, 0.8], [790, 0.2], [820, 0.5], [850, 0.1], [880, 0.3], [910, 0.05], [940, 0.1], [960, 0.015], [990, 0.6], [1020, 0.3], [1050, 0.6], [1080, 0.2], [1110, 0.35], [1140, 0.12], [1170, 0.25], [1200, 0.08], [1230, 0.15], [1260, 0.05], [1290, 0.08], [1320, 0.03], [1338, 0.015], [1350, 1.0], [1380, 0.5], [1410, 0.3], [1440, 0.15], [1470, 0.25], [1500, 0.1], [1540, 0.2], [1580, 0.15], [1620, 0.1], [1660, 0.12], [1700, 0.2], [1740, 0.1], [1780, 0.06], [1820, 0.04], [1860, 0.02], [1890, 1.5], [1920, 0.8], [1950, 1.3], [1980, 0.5], [2010, 0.9], [2040, 0.35], [2070, 0.6], [2100, 0.25], [2130, 0.4], [2160, 0.15], [2200, 0.25], [2240, 0.1], [2280, 0.2], [2320, 0.08], [2360, 0.12], [2400, 0.06], [2450, 0.08], [2500, 0.05], [2550, 0.06], [2600, 0.04], [2640, 0.03], [2655, 0.02], [2670, 0.35], [2690, 0.2], [2750, 0.15], [2840, 0.12], [2950, 0.12], [3050, 0.125], [3150, 0.12], [3250, 0.12], [3310, 0.13], [3360, 0.2], [3400, 0.2], [3440, 0.14], [3500, 0.1], [3560, 0.07], [3626, 0.055], [3700, 0.035], [3712, 0.03], [3725, 0.4], [3750, 0.2], [3775, 0.35], [3800, 0.15], [3825, 0.3], [3850, 0.2], [3875, 0.35], [3900, 0.25], [3925, 0.3], [3950, 0.2], [3975, 0.25], [4000, 0.15]];

// axis ticks
const xTicksTop = [0, 2000, 4000, 6000];
const xTicksBottom = [0, 1000, 2000, 3000, 4000];
const yExpA = [1];
const yExpB = [1];
const yExpC = [0, -1, -2];
const yExpD = [1, 0, -1, -2];

// colours (matplotlib tab10 + plain red for NN3)
const RED = '#ff0000', BLUE = '#1f77b4', ORANGE = '#ff7f0e', GREEN = '#2ca02c', TABRED = '#d62728';
const PURPLE = '#9467bd', BROWN = '#8c564b', PINK = '#e377c2', GRAY = '#7f7f7f', OLIVE = '#bcbd22', CYAN = '#17becf';

const FONT = 'DejaVu Sans';
const PLOT_LEFT = 77, PLOT_RIGHT = 448;

const titleDf = [['Δ', ''], ['f', 'i'], [' (kcal mol', ''], ['−1', 's'], [' nm', ''], ['−1', 's'], [')', '']];
const titleDe = [['Δ', ''], ['ϵ', 'i'], [' (kcal mol', ''], ['−1', 's'], [')', '']];
const titleNe = [['n', 'i'], ['e', 'ib']];

// draw a string made of normal / italic / super / subscript pieces
function drawRich(ctx, parts, x, y, size, align) {
    const fontFor = st => (st.includes('i') ? 'italic ' : '') +
        ((st.includes('s') || st.includes('b')) ? size * 0.7 : size) + 'px "' + FONT + '"';
    let w = 0;
    parts.forEach(([t, st]) => { ctx.font = fontFor(st); w += ctx.measureText(t).width; });
    let cx = align === 'right' ? x - w : x - w / 2;
    ctx.textAlign = 'left';
    ctx.textBaseline = 'alphabetic';
    parts.forEach(([t, st]) => {
        ctx.font = fontFor(st);
        const dy = st.includes('s') ? -size * 0.42 : st.includes('b') ? size * 0.22 : 0;
        ctx.fillText(t, cx, y + dy);
        cx += ctx.measureText(t).width;
    });
}

function expLabel(e) {
    return [['10', ''], [e < 0 ? '−' + (-e) : String(e), 's']];
}

const panelPlugin = {
    id: 'panelDecor',
    afterDraw(chart) {
        const p = chart.options.plugins.panelDecor;
        const { ctx, chartArea: a, scales: { x, y } } = chart;
        ctx.save();
        ctx.fillStyle = '#000';
        ctx.strokeStyle = '#000';
        ctx.lineWidth = 1;

        // x ticks and labels
        p.xTicks.forEach(v => {
            const px = Math.round(x.getPixelForValue(v)) + 0.5;
            ctx.beginPath(); ctx.moveTo(px, a.bottom); ctx.lineTo(px, a.bottom + 5); ctx.stroke();
            ctx.font = '16px "' + FONT + '"';
            ctx.textAlign = 'center';
            ctx.textBaseline = 'alphabetic';
            ctx.fillText(String(v), px, a.bottom + 19);
        });

        // y ticks: majors labelled, minors 2..9 per decade
        const lo = Math.floor(Math.log10(y.min)), hi = Math.ceil(Math.log10(y.max));
        for (let d = lo; d <= hi; d++) {
            for (let m = 1; m <= 9; m++) {
                const v = m * Math.pow(10, d);
                if (v < y.min || v > y.max) continue;
                const py = Math.round(y.getPixelForValue(v)) + 0.5;
                const len = m === 1 ? 5 : 3;
                ctx.beginPath(); ctx.moveTo(a.left, py); ctx.lineTo(a.left - len, py); ctx.stroke();
            }
        }
        p.yExp.forEach(e => {
            const py = y.getPixelForValue(Math.pow(10, e));
            drawRich(ctx, expLabel(e), a.left - 8, py + 5.8, 16, 'right');
        });

        // frame
        ctx.strokeStyle = '#222';
        ctx.strokeRect(Math.round(a.left) + 0.5, Math.round(a.top) + 0.5,
            Math.round(a.right - a.left), Math.round(a.bottom - a.top));

        // y title
        ctx.save();
        ctx.translate(p.yTitleX, (a.top + a.bottom) / 2);
        ctx.rotate(-Math.PI / 2);
        drawRich(ctx, p.yTitle, 0, 5.8, 16, 'center');
        ctx.restore();

        // x title
        if (p.xTitle) drawRich(ctx, p.xTitle, (a.left + a.right) / 2, a.bottom + 39, 16, 'center');

        // panel letter
        ctx.font = 'bold 16px "' + FONT + '"';
        ctx.textAlign = 'center';
        ctx.textBaseline = 'middle';
        ctx.fillText(p.letter[0], p.letter[1], p.letter[2]);

        // legend
        const L = p.legend;
        if (L) {
            const r = 3;
            ctx.beginPath();
            ctx.moveTo(L.x + r, L.y);
            ctx.arcTo(L.x + L.w, L.y, L.x + L.w, L.y + L.h, r);
            ctx.arcTo(L.x + L.w, L.y + L.h, L.x, L.y + L.h, r);
            ctx.arcTo(L.x, L.y + L.h, L.x, L.y, r);
            ctx.arcTo(L.x, L.y, L.x + L.w, L.y, r);
            ctx.closePath();
            ctx.fillStyle = 'rgba(255,255,255,0.8)';
            ctx.fill();
            ctx.strokeStyle = '#cccccc';
            ctx.stroke();
            chart.data.datasets.forEach((ds, i) => {
                const ry = L.row0 + i * L.step;
                ctx.strokeStyle = ds.borderColor;
                ctx.lineWidth = 1.5;
                ctx.beginPath(); ctx.moveTo(L.l0, ry); ctx.lineTo(L.l1, ry); ctx.stroke();
                ctx.fillStyle = '#000';
                ctx.font = '12px "' + FONT + '"';
                ctx.textAlign = 'left';
                ctx.textBaseline = 'middle';
                ctx.fillText(ds.label, L.tx, ry);
            });
        }
        ctx.restore();
    }
};

function buildPanel(id, p) {
    const canvas = document.getElementById(id);
    const H = canvas.height;
    new Chart(canvas.getContext('2d'), {
        type: 'line',
        data: {
            datasets: p.series.map(([label, pts, color], i) => ({
                label: label,
                data: pts.map(([ex, val]) => ({ x: ex, y: val })),
                borderColor: color,
                borderWidth: 1.3,
                pointRadius: 0,
                tension: 0,
                fill: false,
                order: -i
            }))
        },
        options: {
            responsive: false,
            animation: false,
            devicePixelRatio: 1,
            events: [],
            layout: { padding: { left: 0, right: 452 - PLOT_RIGHT, top: p.top, bottom: 0 } },
            plugins: { legend: { display: false }, tooltip: { enabled: false }, panelDecor: p },
            scales: {
                x: {
                    type: 'linear', min: p.xMin, max: p.xMax,
                    ticks: { display: false },
                    grid: { display: false, drawTicks: false },
                    border: { display: false },
                    afterFit: s => { s.height = H - p.top - p.height; }
                },
                y: {
                    type: 'logarithmic', min: p.yMin, max: p.yMax,
                    ticks: { display: false },
                    grid: { display: false, drawTicks: false },
                    border: { display: false },
                    afterFit: s => { s.width = PLOT_LEFT; }
                }
            }
        },
        plugins: [panelPlugin]
    });
}

document.addEventListener('DOMContentLoaded', () => {
    buildPanel('panelA', {
        top: 16, height: 161, xMin: 0, xMax: 7000, yMin: 1.40, yMax: 21.8,
        xTicks: xTicksTop, yExp: yExpA, yTitle: titleDf, yTitleX: 28,
        letter: ['A', 295, 78],
        legend: { x: 311.5, y: 23.5, w: 130, h: 95, row0: 33.5, step: 18, l0: 316.5, l1: 341.5, tx: 351.5 },
        series: [['NN3', nn3Df, RED], ['10AFs Seed 2', blue10s2Df, BLUE], ['10AFs Seed 1', orange10s1Df, ORANGE],
                 ['5AFs Seed 2', green5s2Df, GREEN], ['5AFs Seed 1', red5s1Df, TABRED]]
    });
    buildPanel('panelB', {
        top: 16, height: 159, xMin: 0, xMax: 7000, yMin: 1.39, yMax: 19.3,
        xTicks: xTicksTop, yExp: yExpB, yTitle: titleDf, yTitleX: 28,
        letter: ['B', 295, 72],
        legend: { x: 315, y: 22.5, w: 126.5, h: 131, row0: 33.5, step: 18.3, l0: 320, l1: 345, tx: 355 },
        series: [['NN3', nn3Df, RED], ['15AFs Seed2', purple15s2Df, PURPLE], ['15AFs Seed1', brown15s1Df, BROWN],
                 ['20AFs Seed2', pink20s2Df, PINK], ['20AFs Seed1', gray20s1Df, GRAY],
                 ['25AFs Seed2', olive25s2Df, OLIVE], ['25AFs Seed1', cyan25s1Df, CYAN]]
    });
    buildPanel('panelC', {
        top: 19, height: 157, xMin: -200, xMax: 4200, yMin: 0.0029, yMax: 7.6,
        xTicks: xTicksBottom, yExp: yExpC, yTitle: titleDe, yTitleX: 19.5, xTitle: titleNe,
        letter: ['C', 293, 40],
        legend: null,
        series: [['NN3', nn3De, RED], ['10AFs Seed 2', blue10s2De, BLUE], ['10AFs Seed 1', orange10s1De, ORANGE],
                 ['5AFs Seed 2', green5s2De, GREEN], ['5AFs Seed 1', red5s1De, TABRED]]
    });
    buildPanel('panelD', {
        top: 16, height: 158, xMin: -200, xMax: 4200, yMin: 0.0028, yMax: 26,
        xTicks: xTicksBottom, yExp: yExpD, yTitle: titleDe, yTitleX: 19.5, xTitle: titleNe,
        letter: ['D', 295, 55],
        legend: null,
        series: [['NN3', nn3De, RED], ['15AFs Seed2', purple15s2De, PURPLE], ['15AFs Seed1', brown15s1De, BROWN],
                 ['20AFs Seed2', pink20s2De, PINK], ['20AFs Seed1', gray20s1De, GRAY],
                 ['25AFs Seed2', olive25s2De, OLIVE], ['25AFs Seed1', cyan25s1De, CYAN]]
    });
});
</script>
</body>
</html>
